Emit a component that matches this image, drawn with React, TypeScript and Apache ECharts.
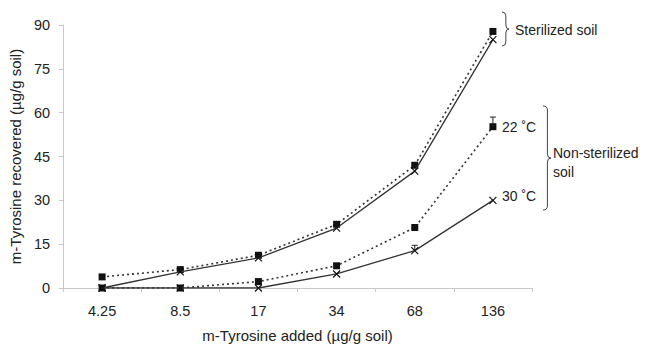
import React, { useEffect, useRef } from "react";
import * as echarts from "echarts";

const categories = ["4.25", "8.5", "17", "34", "68", "136"];
const sterilizedSquare = [3.8, 6.3, 11.2, 21.8, 42.0, 87.8];
const sterilizedCross = [0, 5.5, 10.3, 20.5, 40.0, 85.0];
const nonSterile22 = [0, 0, 2.2, 7.6, 20.7, 55.2];
const nonSterile30 = [0, 0, 0, 4.8, 12.8, 30.0];
const errorCategory = [5, 4];
const errorLow = [55.2, 12.8];
const errorHigh = [58.5, 14.6];
const yTicks = [0, 15, 30, 45, 60, 75, 90];

function braceD(w: number, h: number) {
  const m = h / 2;
  const c = Math.min(4, h / 8);
  const mx = w * 0.55;
  return `M0,0 Q${mx},0 ${mx},${c} L${mx},${m - c} Q${mx},${m} ${w},${m} Q${mx},${m} ${mx},${m + c} L${mx},${h - c} Q${mx},${h} 0,${h}`;
}

let registered = false;
function registerShapes() {
  if (registered) return;
  registered = true;
  echarts.graphic.registerShape("braceA", echarts.graphic.extendPath(braceD(7, 34), {}));
  echarts.graphic.registerShape("braceB", echarts.graphic.extendPath(braceD(8, 104), {}));
}

const CROSS = "path://M0,0L10,10M10,0L0,10";
const FONT = "'Liberation Sans', Arial, sans-serif";

export default function App() {
  const ref = useRef<HTMLDivElement>(null);
  useEffect(() => {
    if (!ref.current) return;
    registerShapes();
    const chart = echarts.init(ref.current, undefined, { renderer: "svg" });
    const lineColor = "#333";
    const errData = errorCategory.map((c, i) => [c, errorLow[i], errorHigh[i]]);
    const option: any = {
      animation: false,
      backgroundColor: "#fff",
      textStyle: { fontFamily: FONT },
      grid: { left: 62, right: 117, top: 25, bottom: 56, containLabel: false },
      xAxis: {
        type: "category",
        data: categories,
        boundaryGap: true,
        name: "m-Tyrosine added (µg/g soil)",
        nameLocation: "middle",
        nameGap: 40,
        nameTextStyle: { fontSize: 15, color: "#222", fontFamily: FONT },
        axisLine: { lineStyle: { color: "#c8c8c8", width: 1 } },
        axisTick: { show: true, length: 4, lineStyle: { color: "#c8c8c8" } },
        axisLabel: { fontSize: 14.5, color: "#222", margin: 15, fontFamily: FONT },
        splitLine: { show: false },
      },
      yAxis: {
        type: "value",
        min: yTicks[0],
        max: yTicks[yTicks.length - 1],
        interval: yTicks[1] - yTicks[0],
        name: "m-Tyrosine recovered (µg/g soil)",
        nameLocation: "middle",
        nameGap: 33,
        nameTextStyle: { fontSize: 15, color: "#222", fontFamily: FONT },
        axisLine: { show: true, lineStyle: { color: "#c8c8c8", width: 1 } },
        axisTick: { show: true, length: 4, lineStyle: { color: "#c8c8c8" } },
        axisLabel: { fontSize: 14.5, color: "#222", margin: 13, fontFamily: FONT },
        splitLine: { show: false },
      },
      series: [
        {
          name: "Sterilized squares",
          type: "line",
          data: sterilizedSquare,
          symbol: "rect",
          symbolSize: 7,
          itemStyle: { color: "#111" },
          lineStyle: { color: lineColor, width: 1.6, type: [2, 3] },
          z: 3,
        },
        {
          name: "Sterilized cross",
          type: "line",
          data: sterilizedCross,
          symbol: CROSS,
          symbolSize: 7,
          itemStyle: { color: "transparent", borderColor: "#111", borderWidth: 1.2 },
          lineStyle: { color: lineColor, width: 1.3, type: "solid" },
          z: 4,
        },
        {
          name: "Non-sterilized 22",
          type: "line",
          data: nonSterile22,
          symbol: "rect",
          symbolSize: 7,
          itemStyle: { color: "#111" },
          lineStyle: { color: lineColor, width: 1.6, type: [2, 3] },
          z: 3,
        },
        {
          name: "Non-sterilized 30",
          type: "line",
          data: nonSterile30,
          symbol: CROSS,
          symbolSize: 7,
          itemStyle: { color: "transparent", borderColor: "#111", borderWidth: 1.2 },
          lineStyle: { color: lineColor, width: 1.3, type: "solid" },
          z: 4,
        },
        {
          name: "Error",
          type: "custom",
          data: errData,
          z: 5,
          renderItem: (params: any, api: any) => {
            const c = api.value(0);
            const lo = api.coord([c, api.value(1)]);
            const hi = api.coord([c, api.value(2)]);
            const hw = 3;
            return {
              type: "group",
              children: [
                {
                  type: "line",
                  shape: { x1: lo[0], y1: lo[1], x2: hi[0], y2: hi[1] },
                  style: { stroke: "#222", lineWidth: 1 },
                },
                {
                  type: "line",
                  shape: { x1: hi[0] - hw, y1: hi[1], x2: hi[0] + hw, y2: hi[1] },
                  style: { stroke: "#222", lineWidth: 1 },
                },
              ],
            };
          },
        },
      ],
      graphic: [
        {
          type: "braceA",
          x: 502,
          y: 12,
          style: { stroke: "#444", fill: "none", lineWidth: 1 },
        },
        {
          type: "braceB",
          x: 543,
          y: 106,
          style: { stroke: "#444", fill: "none", lineWidth: 1 },
        },
        {
          type: "text",
          x: 515,
          y: 30,
          style: { text: "Sterilized soil", font: `14px ${FONT}`, fill: "#222", verticalAlign: "middle" },
        },
        {
          type: "text",
          x: 502,
          y: 127,
          style: { text: "22 ˚C", font: `14px ${FONT}`, fill: "#222", verticalAlign: "middle" },
        },
        {
          type: "text",
          x: 502,
          y: 196,
          style: { text: "30 ˚C", font: `14px ${FONT}`, fill: "#222", verticalAlign: "middle" },
        },
        {
          type: "text",
          x: 553,
          y: 153,
          style: { text: "Non-sterilized", font: `14px ${FONT}`, fill: "#222", verticalAlign: "middle" },
        },
        {
          type: "text",
          x: 553,
          y: 172,
          style: { text: "soil", font: `14px ${FONT}`, fill: "#222", verticalAlign: "middle" },
        },
      ],
    };
    chart.setOption(option);
    return () => chart.dispose();
  }, []);
  return (
    <div
      ref={ref}
      style={{ position: "fixed", left: 0, top: 0, width: 649, height: 348, background: "#fff" }}
    />
  );
}
